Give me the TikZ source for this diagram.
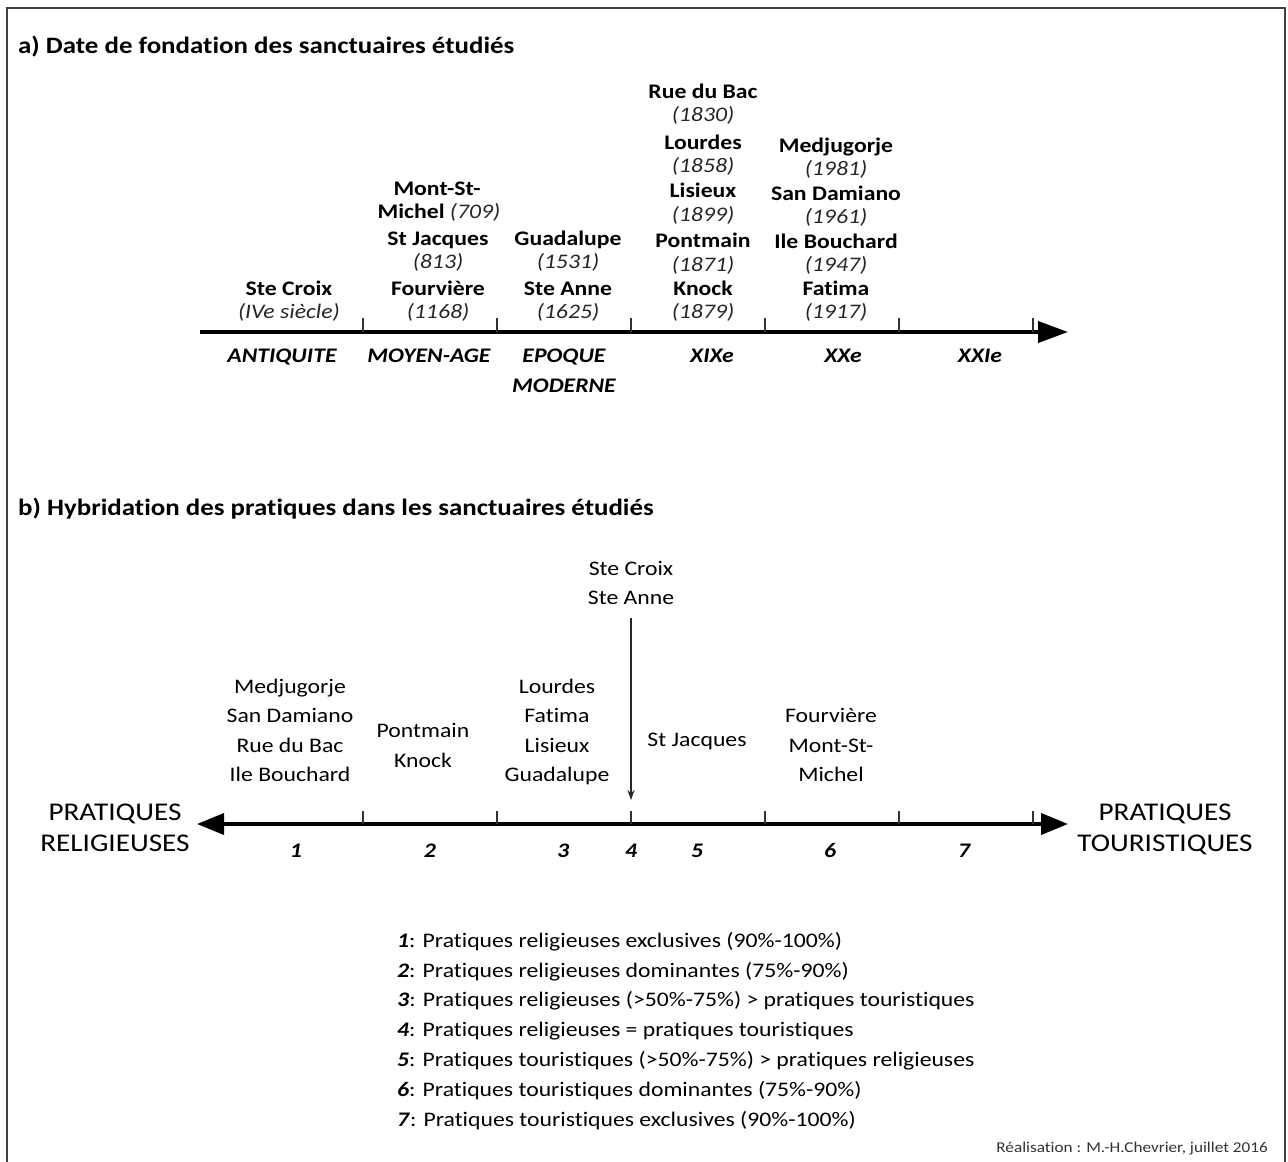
\documentclass[tikz,border=0pt]{standalone}
\usepackage{fontspec}
\setmainfont{Carlito}[FakeStretch=1.145, Ligatures=CommonOff]
\usetikzlibrary{arrows.meta}
\newcommand\myfs{\fontsize{20.7}{25}\selectfont}
\newcommand\myttl{\fontsize{23.5}{28}\selectfont}
\newcommand\mybig{\fontsize{25.5}{30}\selectfont}
\newcommand\mysmall{\fontsize{15}{18}\selectfont}
\tikzset{
  t/.style={anchor=base, inner sep=0pt, font=\myfs},
  nm/.style={t, font=\myfs\bfseries},
  yr/.style={t, font=\myfs\itshape, text=black!85},
  per/.style={t, font=\myfs\bfseries\itshape},
  ttl/.style={anchor=base west, inner sep=0pt, font=\myttl\bfseries},
  pole/.style={anchor=base, inner sep=0pt, font=\mybig},
  tick/.style={line width=1.2pt, black!80},
  axis/.style={line width=3.8pt},
  leg/.style={anchor=base west, inner sep=0pt, font=\myfs},
}
\begin{document}
\begin{tikzpicture}[x=1pt,y=-1pt]
\useasboundingbox (0,0) rectangle (1288,1162);
\fill[white] (0,0) rectangle (1288,1162);
% frame
\coordinate (f1) at (7,1162);
\coordinate (f2) at (7,8);
\coordinate (f3) at (1285,8);
\coordinate (f4) at (1285,1162);
\draw[line width=2pt, black!75] (f1) -- (f2) -- (f3) -- (f4);

% ---------------- a) ----------------
\node[ttl] (ta) at (18,53) {a) Date de fondation des sanctuaires étudiés};

\coordinate (a0) at (200,332);
\coordinate (a1) at (1068,332);
\draw[axis, -{Triangle[length=30pt,width=21pt]}] (a0) -- (a1);
\foreach \x in {363,497,631,765,899,1033}{
  \coordinate (ta\x) at (\x,318);
  \coordinate (ba\x) at (\x,332);
  \draw[tick] (ta\x) -- (ba\x);
}

% periods
\node[per] (p1) at (282,362) {ANTIQUITE};
\node[per] (p2) at (429,362) {MOYEN-AGE};
\node[per] (p3a) at (564,362) {EPOQUE};
\node[per] (p3b) at (564,392) {MODERNE};
\node[per] (p4) at (712,362) {XIXe};
\node[per] (p5) at (843,362) {XXe};
\node[per] (p6) at (980,362) {XXIe};

% column 1
\node[nm] (c1a) at (289,295) {Ste Croix};
\node[yr] (c1b) at (289,318) {(IVe siècle)};
% column 2
\node[nm] (c2a) at (437,195) {Mont-St-};
\node[t] (c2b) at (439,218) {\textbf{Michel} \textit{\color{black!85}(709)}};
\node[nm] (c2c) at (438,245) {St Jacques};
\node[yr] (c2d) at (438,268) {(813)};
\node[nm] (c2e) at (438,295) {Fourvière};
\node[yr] (c2f) at (438,318) {(1168)};
% column 3
\node[nm] (c3a) at (568,245) {Guadalupe};
\node[yr] (c3b) at (568,268) {(1531)};
\node[nm] (c3c) at (568,295) {Ste Anne};
\node[yr] (c3d) at (568,318) {(1625)};
% column 4
\node[nm] (c4a) at (703,98) {Rue du Bac};
\node[yr] (c4b) at (703,121) {(1830)};
\node[nm] (c4c) at (703,149) {Lourdes};
\node[yr] (c4d) at (703,172) {(1858)};
\node[nm] (c4e) at (703,197) {Lisieux};
\node[yr] (c4f) at (703,221) {(1899)};
\node[nm] (c4g) at (703,247) {Pontmain};
\node[yr] (c4h) at (703,271) {(1871)};
\node[nm] (c4i) at (703,295) {Knock};
\node[yr] (c4j) at (703,318) {(1879)};
% column 5
\node[nm] (c5a) at (836,152) {Medjugorje};
\node[yr] (c5b) at (836,175) {(1981)};
\node[nm] (c5c) at (836,200) {San Damiano};
\node[yr] (c5d) at (836,223) {(1961)};
\node[nm] (c5e) at (836,248) {Ile Bouchard};
\node[yr] (c5f) at (836,271) {(1947)};
\node[nm] (c5g) at (836,295) {Fatima};
\node[yr] (c5h) at (836,318) {(1917)};

% ---------------- b) ----------------
\node[ttl] (tb) at (18,515) {b) Hybridation des pratiques dans les sanctuaires étudiés};

\coordinate (b0) at (197,824);
\coordinate (b1) at (1068,824);
\draw[axis, {Triangle[length=27pt,width=21pt]}-{Triangle[length=27pt,width=21pt]}] (b0) -- (b1);
\foreach \x in {363,497,631,765,899,1033}{
  \coordinate (tb\x) at (\x,811);
  \coordinate (bb\x) at (\x,824);
  \draw[tick] (tb\x) -- (bb\x);
}

\node[pole] (rl1) at (115,820) {PRATIQUES};
\node[pole] (rl2) at (115,851) {RELIGIEUSES};
\node[pole] (tr1) at (1165,820) {PRATIQUES};
\node[pole] (tr2) at (1165,851) {TOURISTIQUES};

% numbers
\node[per] (n1) at (296,857) {1};
\node[per] (n2) at (430,857) {2};
\node[per] (n3) at (563,857) {3};
\node[per] (n4) at (631,857) {4};
\node[per] (n5) at (697,857) {5};
\node[per] (n6) at (830,857) {6};
\node[per] (n7) at (964,857) {7};

% labels above axis b
\node[t] (d1a) at (290,693) {Medjugorje};
\node[t] (d1b) at (290,722) {San Damiano};
\node[t] (d1c) at (290,752) {Rue du Bac};
\node[t] (d1d) at (290,781) {Ile Bouchard};
\node[t] (d2a) at (423,737) {Pontmain};
\node[t] (d2b) at (423,767) {Knock};
\node[t] (d3a) at (557,693) {Lourdes};
\node[t] (d3b) at (557,722) {Fatima};
\node[t] (d3c) at (557,752) {Lisieux};
\node[t] (d3d) at (557,781) {Guadalupe};
\node[t] (d4a) at (631,575) {Ste Croix};
\node[t] (d4b) at (631,604) {Ste Anne};
\node[t] (d5a) at (697,746) {St Jacques};
\node[t] (d6a) at (831,722) {Fourvière};
\node[t] (d6b) at (831,752) {Mont-St-};
\node[t] (d6c) at (831,781) {Michel};

\coordinate (ar0) at (631,618);
\coordinate (ar1) at (631,800);
\draw[line width=1.2pt, black!85, -{Stealth[length=10pt,width=7pt]}] (ar0) -- (ar1);

% legend
\node[leg] (l1) at (397,947) {\textbf{\textit{1}}: Pratiques religieuses exclusives (90\%-100\%)};
\node[leg] (l2) at (397,977) {\textbf{\textit{2}}: Pratiques religieuses dominantes (75\%-90\%)};
\node[leg] (l3) at (397,1006) {\textbf{\textit{3}}: Pratiques religieuses (>50\%-75\%) > pratiques touristiques};
\node[leg] (l4) at (397,1036) {\textbf{\textit{4}}: Pratiques religieuses = pratiques touristiques};
\node[leg] (l5) at (397,1066) {\textbf{\textit{5}}: Pratiques touristiques (>50\%-75\%) > pratiques religieuses};
\node[leg] (l6) at (397,1096) {\textbf{\textit{6}}: Pratiques touristiques dominantes (75\%-90\%)};
\node[leg] (l7) at (397,1126) {\textbf{\textit{7}}: Pratiques touristiques exclusives (90\%-100\%)};

\node[anchor=base east, inner sep=0pt, font=\mysmall, black!80] (cr) at (1268,1152) {Réalisation : M.-H.Chevrier, juillet 2016};
\end{tikzpicture}
\end{document}
